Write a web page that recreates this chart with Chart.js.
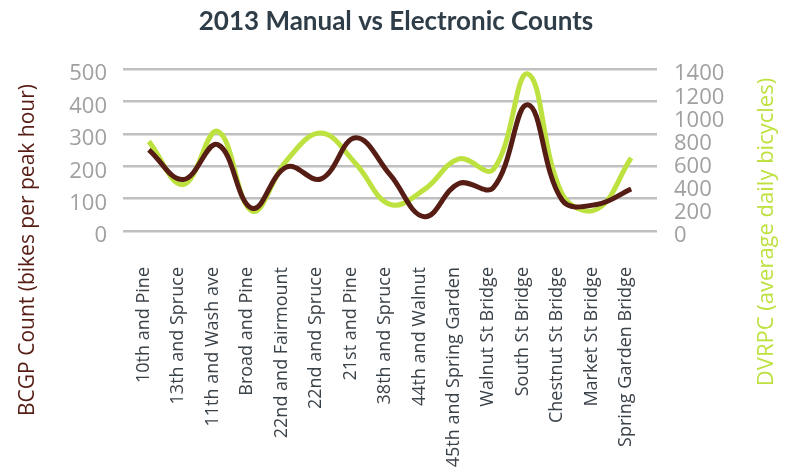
<!DOCTYPE html>
<html>
<head>
<meta charset="utf-8">
<script src="https://cdn.jsdelivr.net/npm/chart.js@4"></script>
<style>
  html, body { margin: 0; padding: 0; background: #ffffff; }
  #wrap { width: 792px; height: 467px; }
</style>
</head>
<body>
<div id="wrap"><canvas id="grafico"></canvas></div>
<script>
// counting locations (x axis)
const ubicaciones = [
  "10th and Pine", "13th and Spruce", "11th and Wash ave", "Broad and Pine",
  "22nd and Fairmount", "22nd and Spruce", "21st and Pine", "38th and Spruce",
  "44th and Walnut", "45th and Spring Garden", "Walnut St Bridge", "South St Bridge",
  "Chestnut St Bridge", "Market St Bridge", "Spring Garden Bridge"
];
// manual counts, bikes per peak hour (left axis)
const conteoBCGP = [251, 159, 267, 70, 198, 161, 288, 174, 44, 147, 134, 390, 95, 82, 130];
// electronic counts, average daily bicycles (right axis)
const conteoDVRPC = [776, 403, 862, 172, 610, 848, 585, 230, 360, 624, 532, 1359, 320, 187, 632];

const ticksIzq = [0, 100, 200, 300, 400, 500];
const ticksDer = [0, 200, 400, 600, 800, 1000, 1200, 1400];

const tituloIzq = "BCGP Count (bikes per peak hour)";
const tituloDer = "DVRPC (average daily bicycles)";

const marron = "#561d15";
const verde = "#bde13f";

// axis titles are centred on the whole canvas height, not the plot area
const titulosEjes = {
  id: "titulosEjes",
  afterDraw(chart) {
    const ctx = chart.ctx;
    ctx.save();
    ctx.font = "21px 'Open Sans'";
    ctx.textAlign = "center";
    ctx.textBaseline = "middle";
    ctx.fillStyle = marron;
    ctx.translate(28, 250);
    ctx.rotate(-Math.PI / 2);
    ctx.fillText(tituloIzq, 0, 0);
    ctx.restore();

    ctx.save();
    ctx.font = "22px 'Open Sans'";
    ctx.textAlign = "center";
    ctx.textBaseline = "middle";
    ctx.fillStyle = verde;
    ctx.translate(767, 232);
    ctx.rotate(-Math.PI / 2);
    ctx.fillText(tituloDer, 0, 0);
    ctx.restore();
  }
};

const puntos = (arr) => arr.map((v, i) => ({ x: i, y: v }));

const ctx = document.getElementById("grafico").getContext("2d");
new Chart(ctx, {
  type: "line",
  data: {
    datasets: [{
      label: "BCGP",
      data: puntos(conteoBCGP),
      yAxisID: "y",
      borderColor: marron,
      borderWidth: 5,
      pointRadius: 0,
      tension: 0.4,
      fill: false
    }, {
      label: "DVRPC",
      data: puntos(conteoDVRPC),
      yAxisID: "y2",
      borderColor: verde,
      borderWidth: 5,
      pointRadius: 0,
      tension: 0.4,
      fill: false
    }]
  },
  options: {
    responsive: true,
    maintainAspectRatio: false,
    animation: false,
    layout: { padding: 0 },
    plugins: {
      legend: { display: false },
      tooltip: { enabled: false },
      title: {
        display: true,
        text: "2013 Manual vs Electronic Counts",
        color: "#2e3d47",
        font: { family: "Lato", size: 26, weight: "bold" },
        padding: { top: 6, bottom: 32 }
      }
    },
    scales: {
      x: {
        type: "linear",
        min: -0.75,
        max: 14.75,
        afterBuildTicks: (scale) => {
          scale.ticks = ubicaciones.map((_, i) => ({ value: i }));
        },
        afterFit: (scale) => { scale.height = 236; },
        grid: { display: false, drawTicks: false },
        border: { display: false },
        ticks: {
          autoSkip: false,
          minRotation: 90,
          maxRotation: 90,
          padding: 36,
          labelOffset: -5,
          color: "#3a4249",
          font: { family: "Open Sans", size: 18 },
          callback: (v) => ubicaciones[v]
        }
      },
      y: {
        position: "left",
        min: 0,
        max: 500,
        afterBuildTicks: (scale) => {
          scale.ticks = ticksIzq.map(v => ({ value: v }));
        },
        afterFit: (scale) => { scale.width = 123; },
        grid: { color: "#c0c0c0", lineWidth: 2.5, drawTicks: false },
        border: { display: false },
        ticks: {
          autoSkip: false,
          padding: 16,
          labelOffset: 5,
          color: "#a0a0a0",
          font: { family: "Open Sans", size: 22 },
          callback: (v) => String(v)
        }
      },
      y2: {
        position: "right",
        min: 0,
        max: 1400,
        afterBuildTicks: (scale) => {
          scale.ticks = ticksDer.map(v => ({ value: v }));
        },
        afterFit: (scale) => { scale.width = 135; },
        grid: { display: false, drawTicks: false },
        border: { display: false },
        ticks: {
          autoSkip: false,
          padding: 17,
          labelOffset: 5,
          color: "#a0a0a0",
          font: { family: "Open Sans", size: 22 },
          callback: (v) => String(v)
        }
      }
    }
  },
  plugins: [titulosEjes]
});
</script>
</body>
</html>
